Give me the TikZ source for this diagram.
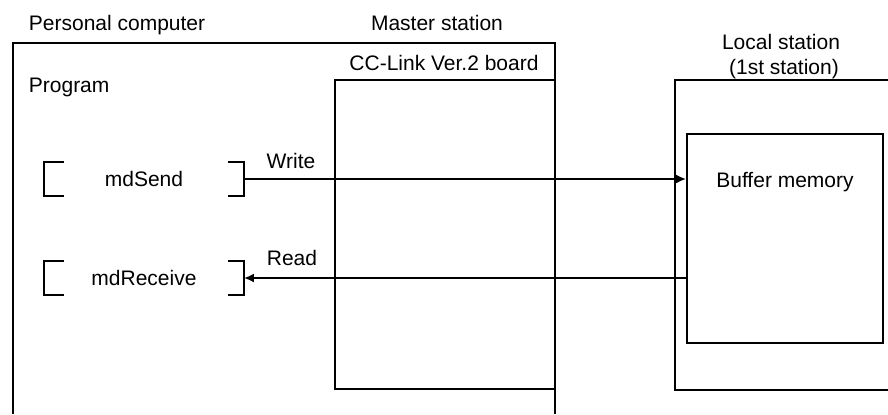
\documentclass[tikz,border=0pt]{standalone}
\usepackage{fontspec}
\setmainfont{Liberation Sans}
\usetikzlibrary{arrows.meta}

\begin{document}
\begin{tikzpicture}[x=0.5pt, y=-0.5pt, line width=0.9pt,
    txt/.style={font=\fontsize{10.5}{12.6}\selectfont, inner sep=0pt},
    fn/.style={txt, minimum width=99pt, minimum height=16pt},
    link/.style={line width=1.1pt, -{Latex[length=5pt,width=4.5pt]}}]
\useasboundingbox (0,0) rectangle (888,414);
        % personal computer and master station
        \draw (13,414) |- (555,43) -- (555,414);
        \node[draw, inner sep=0pt, minimum width=110pt, minimum height=154.5pt] (brd) at (445,234.5) {};
        \node[txt, anchor=base west] (pc) at (28,30) {Personal computer};
        \node[txt, anchor=base west] (prog) at (28,92) {Program};
        \node[txt, anchor=base] (ms) at (437,30) {Master station};
        \node[txt, anchor=base] (brdl) at (444,70) {CC-Link Ver.2 board};
        % local station
        \draw (888,80) -| (675,390) -- (888,390);
        \node[draw, inner sep=0pt, minimum width=98pt, minimum height=104.5pt] (buf) at (785,238.5) {};
        \node[txt, anchor=base] (ls) at (781,49) {Local station};
        \node[txt, anchor=base] (ls1) at (784,74) {(1st station)};
        \node[txt, anchor=base] (bufl) at (785,187) {Buffer memory};
        % functions
        \node[fn] (snd) at (144,179) {mdSend};
        \node[fn] (rcv) at (144,278) {mdReceive};
        \foreach \f in {snd, rcv} {
            \draw (\f.north west) ++(20,0) -| (\f.south west) -- ++(20,0);
            \draw (\f.north east) ++(-16,0) -| (\f.south east) -- ++(-16,0);
        }
        \draw[link] (snd.east) -- (snd.east -| buf.west);
        \draw[link] (rcv.east -| buf.west) -- (rcv.east);
        \node[txt, anchor=base] (wr) at (291,168) {Write};
        \node[txt, anchor=base] (rd) at (292,265) {Read};
\end{tikzpicture}
\end{document}
